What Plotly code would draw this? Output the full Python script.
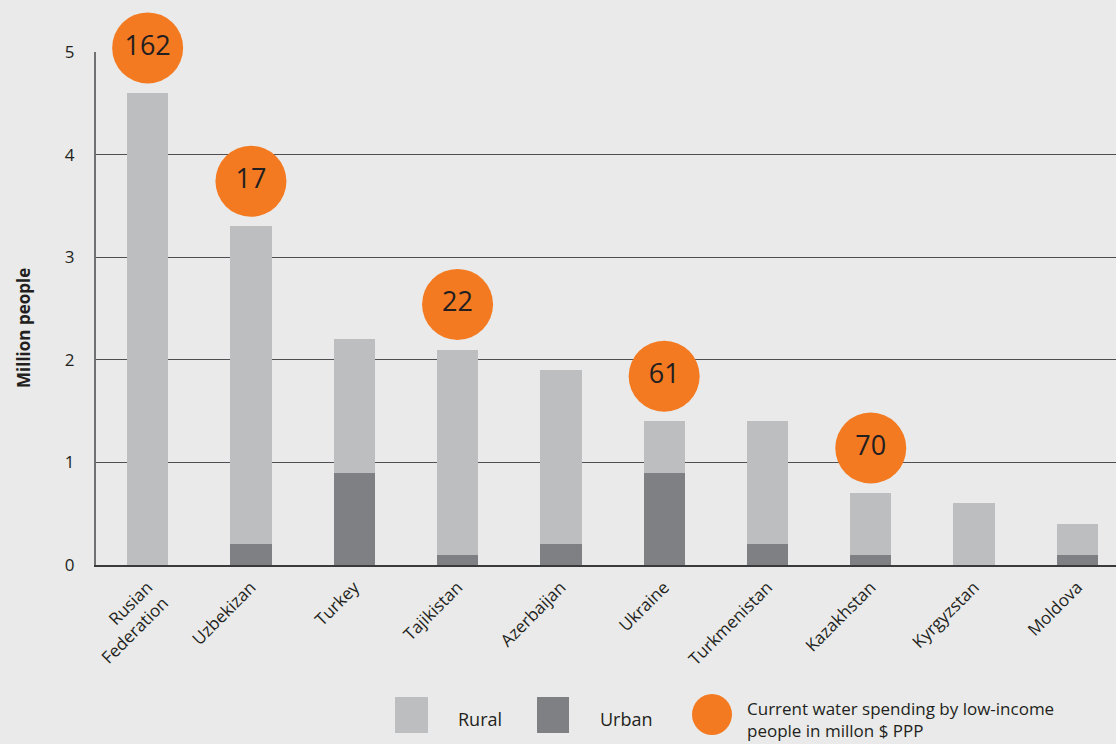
import plotly.graph_objects as go

countries = ["Rusian<br>Federation", "Uzbekizan", "Turkey", "Tajikistan", "Azerbaijan",
             "Ukraine", "Turkmenistan", "Kazakhstan", "Kyrgyzstan", "Moldova"]
urban = [0.0, 0.2, 0.9, 0.1, 0.2, 0.9, 0.2, 0.1, 0.0, 0.1]
rural = [4.6, 3.1, 1.3, 2.0, 1.7, 0.5, 1.2, 0.6, 0.6, 0.3]
spending = [162, 17, None, 22, None, 61, None, 70, None, None]
yticks = [0, 1, 2, 3, 4, 5]

RURAL_C = "#BDBEC0"
URBAN_C = "#7E8084"
ORANGE = "#F47A22"
BG = "#E9EAE9"
TXT = "#231F20"
FONT = "Open Sans"

W, H = 1116, 744
L, R, T, B = 96, 0, 0, 179
PW, PH = W - L - R, H - T - B
Y0_PX = H - B            # pixel row of y = 0
TOP_PX = 52              # pixel row of y = 5
UNIT = (Y0_PX - TOP_PX) / max(yticks)   # pixels per million people
YMAX2 = Y0_PX / UNIT     # range of the full-height overlay axis (same scale)
XR = [-0.5, 9.374]

def px(x):
    return (x - L) / PW

def py(y):
    return (H - B - y) / PH

fig = go.Figure()
fig.add_trace(go.Bar(x=countries, y=urban, marker=dict(color=URBAN_C, line=dict(width=0)),
                     name="Urban", showlegend=False))
fig.add_trace(go.Bar(x=countries, y=rural, marker=dict(color=RURAL_C, line=dict(width=0)),
                     name="Rural", showlegend=False))

bx, by, bt = [], [], []
for c, u, r, s in zip(countries, urban, rural, spending):
    if s is not None:
        bx.append(c)
        by.append(u + r + 0.44)
        bt.append(str(s))
fig.add_trace(go.Scatter(x=bx, y=by, yaxis="y2", mode="markers+text", text=bt,
                         textposition="middle center",
                         textfont=dict(size=27, color=TXT, family=FONT),
                         marker=dict(size=71, color=ORANGE, line=dict(width=0)),
                         cliponaxis=False, showlegend=False, hoverinfo="skip"))

shapes = []
annotations = []
# legend (drawn manually for large swatches)
shapes.append(dict(type="rect", xref="paper", yref="paper", x0=px(395), x1=px(428),
                   y0=py(733), y1=py(697), fillcolor=RURAL_C, line=dict(width=0)))
shapes.append(dict(type="rect", xref="paper", yref="paper", x0=px(537), x1=px(569),
                   y0=py(733), y1=py(697), fillcolor=URBAN_C, line=dict(width=0)))
shapes.append(dict(type="circle", xref="paper", yref="paper", x0=px(692), x1=px(732),
                   y0=py(735), y1=py(694), fillcolor=ORANGE, line=dict(width=0)))
annotations.append(dict(text="Rural", xref="paper", yref="paper", x=px(456), y=py(719),
                        xanchor="left", yanchor="middle", showarrow=False,
                        font=dict(size=18, color=TXT, family=FONT)))
annotations.append(dict(text="Urban", xref="paper", yref="paper", x=px(598), y=py(719),
                        xanchor="left", yanchor="middle", showarrow=False,
                        font=dict(size=18, color=TXT, family=FONT)))
annotations.append(dict(text="Current water spending by low-income<br>people in millon $ PPP",
                        xref="paper", yref="paper", x=px(745), y=py(719),
                        xanchor="left", yanchor="middle", align="left", showarrow=False,
                        font=dict(size=17, color=TXT, family=FONT)))
annotations.append(dict(text="<b>Million people</b>", xref="paper", yref="paper",
                        x=px(23), y=py(328), textangle=-90, xanchor="center", yanchor="middle",
                        showarrow=False, font=dict(size=17, color=TXT, family=FONT)))

fig.update_layout(
    width=W, height=H, autosize=False,
    margin=dict(l=L, r=R, t=T, b=B, pad=0, autoexpand=False),
    paper_bgcolor=BG, plot_bgcolor="rgba(0,0,0,0)",
    barmode="stack", bargap=0.6,
    font=dict(family=FONT, color=TXT, size=16),
    shapes=shapes, annotations=annotations,
    xaxis=dict(range=XR, tickangle=-45, showgrid=False,
               showline=True, linecolor="#3A3A3C", linewidth=1.5,
               ticks="", tickfont=dict(size=17, color=TXT, family=FONT),
               ticklabelstandoff=4, automargin=False),
    yaxis=dict(range=[0, max(yticks)], domain=[0, py(TOP_PX)], tickvals=yticks,
               showgrid=True, gridcolor="#4F4F51", gridwidth=1.3, zeroline=False,
               showline=True, linecolor="#707173", linewidth=2,
               ticks="", tickfont=dict(size=17, color=TXT, family=FONT),
               ticklabelstandoff=16, automargin=False),
    yaxis2=dict(range=[0, YMAX2], domain=[0, 1], anchor="x", visible=False,
                showgrid=False, zeroline=False, automargin=False),
)

fig.write_html("out.html", config={"displayModeBar": False},
               post_script="document.body.style.margin='0';document.body.style.padding='0';")
